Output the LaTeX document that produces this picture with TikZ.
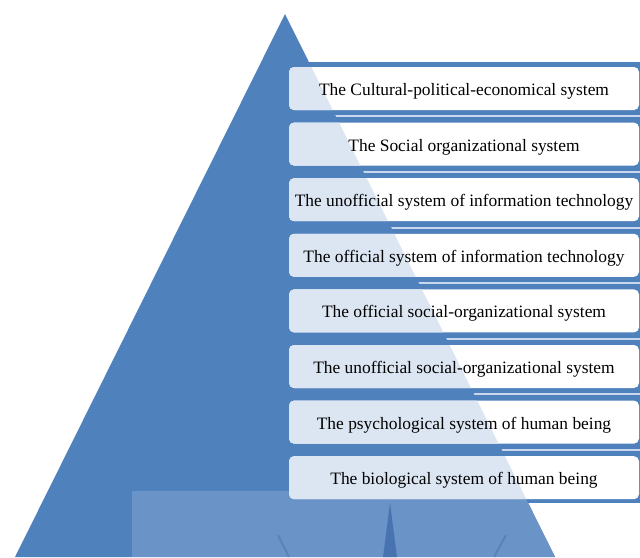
\documentclass[tikz,border=0pt]{standalone}
\usepackage{fontspec}
\setmainfont{Liberation Serif}
\definecolor{pyrblue}{HTML}{4F81BD}
\definecolor{pyrlight}{HTML}{6A93C7}
\definecolor{pyrdark}{HTML}{4774B0}
\definecolor{stripe}{HTML}{C9D8EC}
\definecolor{tint}{HTML}{DCE6F2}
\tikzset{
  sysbox/.style={rectangle, rounded corners=5, fill=white, minimum width=350,
    minimum height=43, inner sep=0, text height=14, text depth=0,
    font=\fontsize{17.4}{20}\selectfont,
    path picture={\fill[tint] (apex) -- (baseL) -- (baseR) -- cycle;}},
  stripeline/.style={stripe, line width=2}
}
\begin{document}
\begin{tikzpicture}[x=1pt,y=-1pt]
  \useasboundingbox (0,0) rectangle (640,557);
  \coordinate (apex) at (285,14);
  \coordinate (baseL) at (15,557);
  \coordinate (baseR) at (555,557);

  % band behind the boxes
  \fill[pyrblue] (285,62) rectangle (640,503);
  \draw[stripeline] (285,116.3) -- (640,116.3);
  \draw[stripeline] (285,171.9) -- (640,171.9);
  \draw[stripeline] (285,227.5) -- (640,227.5);
  \draw[stripeline] (285,283.1) -- (640,283.1);
  \draw[stripeline] (285,338.7) -- (640,338.7);
  \draw[stripeline] (285,394.3) -- (640,394.3);
  \draw[stripeline] (285,449.9) -- (640,449.9);

  % pyramid
  \fill[pyrblue] (apex) -- (baseL) -- (baseR) -- cycle;
  \begin{scope}
    \clip (apex) -- (baseL) -- (baseR) -- cycle;
    \fill[pyrlight] (132,491) rectangle (640,557);
    \fill[pyrdark] (383,557) -- (390,503) -- (397,557) -- cycle;
    \draw[pyrdark, line width=2, opacity=.5] (278,535) -- (289,557);
    \draw[pyrdark, line width=2, opacity=.5] (506,535) -- (494,557);
  \end{scope}

  % systems
  \node[sysbox] (sys1) at (464,88.5) {The Cultural-political-economical system};
  \node[sysbox] (sys2) at (464,144.1) {The Social organizational system};
  \node[sysbox] (sys3) at (464,199.7) {The unofficial system of information technology};
  \node[sysbox] (sys4) at (464,255.3) {The official system of information technology};
  \node[sysbox] (sys5) at (464,310.9) {The official social-organizational system};
  \node[sysbox] (sys6) at (464,366.5) {The unofficial social-organizational system};
  \node[sysbox] (sys7) at (464,422.1) {The psychological system of human being};
  \node[sysbox] (sys8) at (464,477.7) {The biological system of human being};
\end{tikzpicture}
\end{document}
